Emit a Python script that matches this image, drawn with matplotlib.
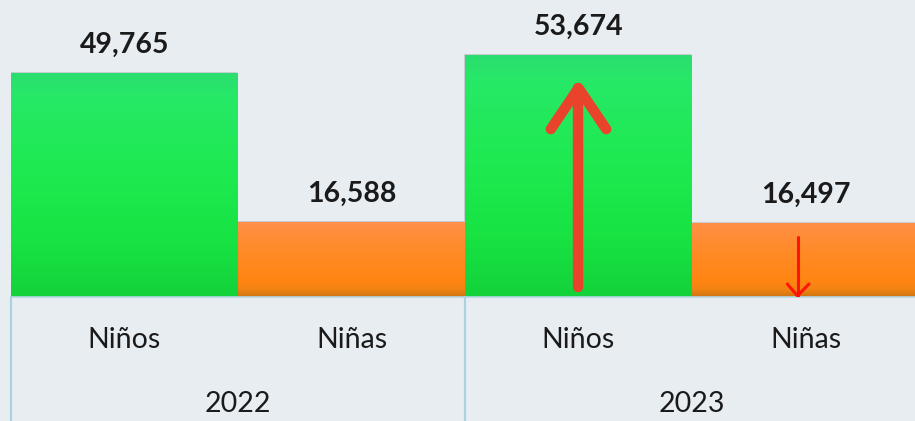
import matplotlib
matplotlib.use("Agg")
import matplotlib.pyplot as plt
import numpy as np
from matplotlib.colors import LinearSegmentedColormap
from matplotlib.transforms import blended_transform_factory

years = ["2022", "2023"]
categories = ["Niños", "Niñas"]
values_2022 = [49765, 16588]
values_2023 = [53674, 16497]
value_labels = ["49,765", "16,588", "53,674", "16,497"]

BG = "#e8edf2"
FONT = ["Lato", "DejaVu Sans"]

fig = plt.figure(figsize=(9.15, 4.21), dpi=100)
fig.patch.set_facecolor(BG)
W, H = 915, 421
ax_left, ax_bottom = 11 / W, 124 / H
ax_w = 908 / W
ax = fig.add_axes([ax_left, ax_bottom, ax_w, 1 - ax_bottom])
ax.set_facecolor(BG)

values = values_2022 + values_2023
xs = np.arange(len(values))
ymax = 66000
ax.set_xlim(-0.5, len(values) - 0.5)
ax.set_ylim(0, ymax)
ax.axis("off")

green_cmap = LinearSegmentedColormap.from_list(
    "g", [(0, "#13d23b"), (0.25, "#18e343"), (0.6, "#1fea52"), (0.9, "#27e868"), (1, "#2ade6f")])
orange_cmap = LinearSegmentedColormap.from_list(
    "o", [(0, "#cf7512"), (0.1, "#f08312"), (0.2, "#ff8512"), (0.6, "#ff8a26"), (1, "#ff9048")])
cmaps = [green_cmap, orange_cmap, green_cmap, orange_cmap]

bars = ax.bar(xs, values, width=1.0, color="none", edgecolor="none", zorder=2)
grad = np.linspace(0, 1, 256).reshape(-1, 1)
for i, (b, v) in enumerate(zip(bars, values)):
    # subtle shadow
    ax.bar(b.get_x() - 0.004, v + 250, width=1.0, align="edge",
           color="#8a9099", alpha=0.35, zorder=1.5 + i * 0.01, edgecolor="none")
    im = ax.imshow(grad, cmap=cmaps[i], origin="lower", aspect="auto",
                   extent=[b.get_x(), b.get_x() + b.get_width(), 0, v],
                   zorder=2 + i * 0.01, interpolation="bicubic")
    im.set_clip_path(b)
    ax.annotate(value_labels[i], xy=(b.get_x() + b.get_width() / 2, v),
                xytext=(0, 14.5), textcoords="offset points",
                ha="center", va="baseline", fontsize=20.5, fontweight="bold",
                color="#1a1a1a", family=FONT, zorder=5)
ax.set_xlim(-0.5, len(values) - 0.5)
ax.set_ylim(0, ymax)

# Baseline
ax.axhline(0, color="#b5d6e3", lw=1.2, zorder=6, clip_on=False)

# Category axis below
trans = blended_transform_factory(ax.transData, ax.transAxes)
axis_h = H - 124
below = -124 / axis_h
for g in range(len(years)):
    xl = g * 2 - 0.5
    ax.plot([xl, xl], [0, below], transform=trans, color="#acd2e0", lw=1.6,
            clip_on=False, zorder=6)
xr = len(values) - 0.5
ax.plot([xr, xr], [0, below], transform=trans, color="#acd2e0", lw=1.6,
        clip_on=False, zorder=6)

for i, x in enumerate(xs):
    ax.text(x, -43 / axis_h, categories[i % 2], transform=trans, ha="center",
            va="center", fontsize=20.5, color="#1a1a1a", family=FONT)
for g, yr in enumerate(years):
    ax.text(g * 2 + 0.5, -107 / axis_h, yr, transform=trans, ha="center",
            va="center", fontsize=20.5, color="#1a1a1a", family=FONT)

# Trend arrows (2023 vs 2022)
up_x = 2
up_low, up_high = 0.04 * values[2], 0.865 * values[2]
head_y = up_high - 0.17 * values[2]
up_col = "#ea432b"
ax.plot([up_x, up_x], [up_low, up_high], color=up_col, lw=7.5,
        solid_capstyle="round", zorder=7)
ax.plot([up_x - 0.122, up_x, up_x + 0.122], [head_y, up_high, head_y], color=up_col,
        lw=7.5, solid_capstyle="round", solid_joinstyle="round", zorder=7)

dn_x = 2.965
dn_high, dn_low = 0.81 * values[3], 0.015 * values[3]
dn_head = dn_low + 0.16 * values[3]
dn_col = "#ff1508"
ax.plot([dn_x, dn_x], [dn_high, dn_low], color=dn_col, lw=2.2,
        solid_capstyle="round", zorder=7)
ax.plot([dn_x - 0.045, dn_x, dn_x + 0.05], [dn_head, dn_low, dn_head], color=dn_col,
        lw=2.2, solid_capstyle="round", solid_joinstyle="miter", zorder=7)

fig.savefig("out.png", dpi=100, facecolor=BG)
